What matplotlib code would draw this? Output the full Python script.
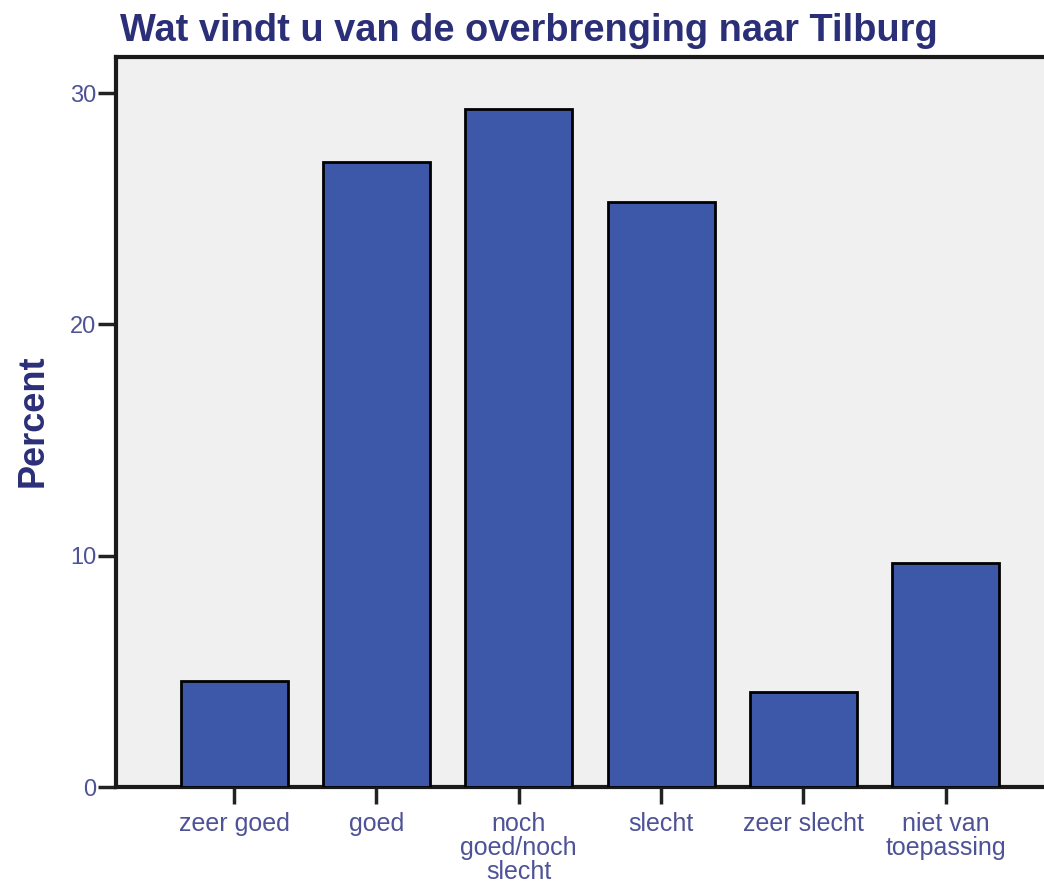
import matplotlib
matplotlib.use("Agg")
import matplotlib.pyplot as plt

categories = ["zeer goed", "goed", "noch\ngoed/noch\nslecht", "slecht", "zeer slecht", "niet van\ntoepassing"]
percent = [4.6, 27.0, 29.3, 25.3, 4.1, 9.7]
yticks = [0, 10, 20, 30]

navy = "#2B2F78"
tickc = "#4E5296"
barc = "#3D58A9"

plt.rcParams['font.family'] = ['Liberation Sans', 'DejaVu Sans']
fig = plt.figure(figsize=(10.44, 8.84), dpi=100)
ax = fig.add_axes([116/1044, 1-787/884, 1-116/1044, (787-57)/884])
ax.set_facecolor("#F0F0F0")
x = list(range(len(categories)))
ax.bar(x, percent, width=0.75, color=barc, edgecolor="black", linewidth=2, zorder=3)
ax.set_xlim(-0.83, 5.69)
ax.set_ylim(0, 31.56)
ax.set_yticks(yticks)
ax.set_yticklabels([str(v) for v in yticks])
ax.set_xticks(x)
ax.set_xticklabels(categories, linespacing=1.0)
ax.tick_params(axis='y', colors="#222222", labelcolor=tickc, labelsize=17, length=13, width=2.5, pad=1)
ax.tick_params(axis='x', colors="#222222", labelcolor=tickc, labelsize=18, length=12, width=2.5, pad=6)
for s in ["left", "bottom", "top"]:
    ax.spines[s].set_linewidth(3)
    ax.spines[s].set_color("#1A1A1A")
ax.spines["right"].set_visible(False)
fig.text(33/1044, 1-421/884, "Percent", fontsize=26, fontweight="bold", color=navy,
         rotation=90, ha="center", va="center")
fig.text(120/1044, 1-41/884, "Wat vindt u van de overbrenging naar Tilburg", fontsize=27.4,
         fontweight="bold", color=navy, ha="left", va="baseline")
fig.savefig("out.png", dpi=100)
